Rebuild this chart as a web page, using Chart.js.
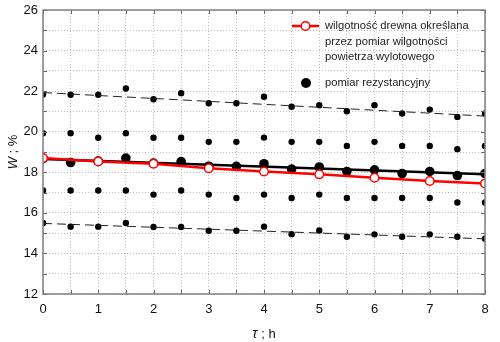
<!DOCTYPE html>
<html>
<head>
<meta charset="utf-8">
<script src="https://cdn.jsdelivr.net/npm/chart.js@4"></script>
<style>
  html, body { margin: 0; padding: 0; background: #fff; }
  #wrap { width: 500px; height: 342px; }
</style>
</head>
<body>
<div id="wrap"><canvas id="moistureChart" width="500" height="342"></canvas></div>
<script>
// --- DATA ---
const hours = [0, 0.5, 1, 1.5, 2, 2.5, 3, 3.5, 4, 4.5, 5, 5.5, 6, 6.5, 7, 7.5, 8];

// resistance readings, four probes + average
const probeHigh = [21.83, 21.82, 21.82, 22.13, 21.6, 21.9, 21.4, 21.4, 21.72, 21.23, 21.31, 21.01, 21.31, 20.9, 21.09, 20.73, 20.9];
const probeMidHigh = [19.93, 19.93, 19.7, 19.93, 19.7, 19.7, 19.5, 19.5, 19.71, 19.5, 19.5, 19.3, 19.5, 19.3, 19.3, 19.14, 19.3];
const probeMidLow = [17.1, 17.1, 17.1, 17.1, 16.9, 17.1, 16.9, 16.73, 16.9, 16.73, 16.9, 16.73, 16.73, 16.73, 16.73, 16.51, 16.51];
const probeLow = [15.5, 15.32, 15.32, 15.5, 15.3, 15.3, 15.12, 15.12, 15.32, 14.95, 15.13, 14.82, 14.94, 14.82, 14.94, 14.82, 14.72];
const resistanceMean = [18.68, 18.48, 18.55, 18.7, 18.45, 18.53, 18.3, 18.29, 18.42, 18.16, 18.26, 18.04, 18.12, 17.94, 18.04, 17.84, 17.94];

// moisture from exhaust air humidity, hourly
const airHours = [0, 1, 2, 3, 4, 5, 6, 7, 8];
const airMoisture = [18.7, 18.53, 18.42, 18.2, 18.04, 17.9, 17.73, 17.57, 17.45];

// fitted trends (start, end)
const trendHours = [0, 8];
const trendMean = [18.66, 17.9];
const trendHigh = [21.93, 20.77];
const trendLow = [15.48, 14.72];

const xTicks = [0, 1, 2, 3, 4, 5, 6, 7, 8];
const yTicks = [12, 14, 16, 18, 20, 22, 24, 26];

const FONT = '"Liberation Sans", Arial, sans-serif';

const pts = (xs, ys) => xs.map((x, i) => ({ x: x, y: ys[i] }));

const dots = (ys) => ({
    data: pts(hours, ys),
    showLine: false,
    pointRadius: 3.2,
    pointBackgroundColor: '#000',
    pointBorderWidth: 0,
    order: 5
});

const dashed = (ys) => ({
    data: pts(trendHours, ys),
    showLine: true,
    borderColor: '#222',
    borderWidth: 1,
    borderDash: [9, 5],
    pointRadius: 0,
    order: 4
});

// --- PLUGINS ---
const frameTicks = {
    id: 'frameTicks',
    afterDatasetsDraw(chart) {
        const { ctx, chartArea: a, scales } = chart;
        ctx.save();
        ctx.strokeStyle = '#666';
        ctx.lineWidth = 1;
        ctx.beginPath();
        for (let v = 0; v <= 8; v += 0.5) {
            const x = Math.round(scales.x.getPixelForValue(v)) + 0.5;
            ctx.moveTo(x, a.bottom); ctx.lineTo(x, a.bottom - 4);
            ctx.moveTo(x, a.top); ctx.lineTo(x, a.top + 4);
        }
        for (let v = 12; v <= 26; v += 1) {
            const y = Math.round(scales.y.getPixelForValue(v)) + 0.5;
            ctx.moveTo(a.left, y); ctx.lineTo(a.left + 4, y);
            ctx.moveTo(a.right, y); ctx.lineTo(a.right - 4, y);
        }
        ctx.stroke();
        ctx.strokeStyle = '#808080';
        ctx.lineWidth = 1.5;
        ctx.strokeRect(a.left, a.top, a.right - a.left, a.bottom - a.top);
        ctx.restore();
    }
};

const labelsAndLegend = {
    id: 'labelsAndLegend',
    afterDraw(chart) {
        const { ctx, chartArea: a } = chart;
        ctx.save();
        ctx.fillStyle = '#111';
        ctx.textBaseline = 'middle';
        ctx.textAlign = 'left';

        // x axis title: italic tau, plain unit
        const cx = (a.left + a.right) / 2;
        ctx.font = 'italic 14px ' + FONT;
        const wt = ctx.measureText('τ').width;
        ctx.font = '13px ' + FONT;
        const wr = ctx.measureText(' ; h').width;
        let x0 = cx - (wt + wr) / 2;
        ctx.font = 'italic 14px ' + FONT;
        ctx.fillText('τ', x0, 334);
        ctx.font = '13px ' + FONT;
        ctx.fillText(' ; h', x0 + wt, 334);

        // y axis title
        ctx.save();
        ctx.translate(13, (a.top + a.bottom) / 2);
        ctx.rotate(-Math.PI / 2);
        ctx.font = 'italic 13px ' + FONT;
        const ww = ctx.measureText('W').width;
        ctx.font = '13px ' + FONT;
        const wp = ctx.measureText(' ; %').width;
        x0 = -(ww + wp) / 2;
        ctx.font = 'italic 13px ' + FONT;
        ctx.fillText('W', x0, 0);
        ctx.font = '13px ' + FONT;
        ctx.fillText(' ; %', x0 + ww, 0);
        ctx.restore();

        // legend
        ctx.strokeStyle = '#f00';
        ctx.lineWidth = 2.5;
        ctx.beginPath();
        ctx.moveTo(292, 26); ctx.lineTo(319, 26);
        ctx.stroke();
        ctx.beginPath();
        ctx.arc(305.5, 26, 4.3, 0, Math.PI * 2);
        ctx.fillStyle = '#fff';
        ctx.fill();
        ctx.lineWidth = 1.5;
        ctx.stroke();

        ctx.fillStyle = '#000';
        ctx.beginPath();
        ctx.arc(306, 83, 5, 0, Math.PI * 2);
        ctx.fill();

        ctx.fillStyle = '#222';
        ctx.font = '11.2px ' + FONT;
        ctx.fillText('wilgotność drewna określana', 325, 26);
        ctx.fillText('przez pomiar wilgotności', 325, 41.5);
        ctx.fillText('powietrza wylotowego', 325, 57);
        ctx.fillText('pomiar rezystancyjny', 325, 83);
        ctx.restore();
    }
};

// --- CHART ---
new Chart(document.getElementById('moistureChart'), {
    type: 'scatter',
    data: {
        datasets: [
            {
                data: pts(airHours, airMoisture),
                showLine: true,
                borderColor: '#f00',
                borderWidth: 2.5,
                pointRadius: 4.3,
                pointBackgroundColor: '#fff',
                pointBorderColor: '#f00',
                pointBorderWidth: 1.5,
                order: 1
            },
            {
                data: pts(trendHours, trendMean),
                showLine: true,
                borderColor: '#000',
                borderWidth: 2.5,
                pointRadius: 0,
                order: 2
            },
            {
                data: pts(hours, resistanceMean),
                showLine: false,
                pointRadius: 4.8,
                pointBackgroundColor: '#000',
                pointBorderWidth: 0,
                order: 3
            },
            dashed(trendHigh),
            dashed(trendLow),
            dots(probeHigh),
            dots(probeMidHigh),
            dots(probeMidLow),
            dots(probeLow)
        ]
    },
    options: {
        responsive: false,
        animation: false,
        events: [],
        layout: { padding: { top: 10, right: 15, left: 0, bottom: 0 } },
        plugins: { legend: { display: false }, tooltip: { enabled: false } },
        scales: {
            x: {
                type: 'linear',
                min: 0, max: 8,
                afterFit(scale) {
                    scale.height = 48;
                    scale.paddingLeft = 0;
                    scale.paddingRight = 0;
                },
                afterBuildTicks(scale) {
                    scale.ticks = hours.map(v => ({ value: v }));
                },
                ticks: {
                    autoSkip: false,
                    maxRotation: 0,
                    padding: 8,
                    color: '#111',
                    font: { family: FONT, size: 13 },
                    callback: v => xTicks.includes(v) ? String(v) : ''
                },
                grid: { color: '#bdbdbd', drawTicks: false },
                border: { display: false, dash: [1, 2] }
            },
            y: {
                min: 12, max: 26,
                afterFit(scale) {
                    scale.width = 43;
                    scale.paddingTop = 0;
                    scale.paddingBottom = 0;
                },
                afterBuildTicks(scale) {
                    const t = [];
                    for (let v = 12; v <= 26; v++) t.push({ value: v });
                    scale.ticks = t;
                },
                ticks: {
                    autoSkip: false,
                    padding: 5,
                    color: '#111',
                    font: { family: FONT, size: 13 },
                    callback: v => yTicks.includes(v) ? String(v) : ''
                },
                grid: { color: '#bdbdbd', drawTicks: false },
                border: { display: false, dash: [1, 2] }
            }
        }
    },
    plugins: [frameTicks, labelsAndLegend]
});
</script>
</body>
</html>
